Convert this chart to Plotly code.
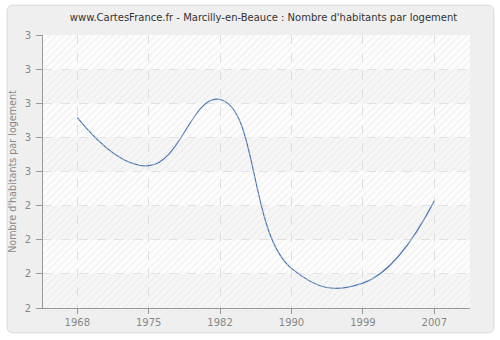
import plotly.graph_objects as go

years = ["1968", "1975", "1982", "1990", "1999", "2007"]
values = [2.658, 2.517, 2.711, 2.216, 2.173, 2.414]
y_tickvals = [2.1, 2.2, 2.3, 2.4, 2.5, 2.6, 2.7, 2.8, 2.9]
y_ticklabels = ["2", "2", "2", "2", "3", "3", "3", "3", "3"]

title = "www.CartesFrance.fr - Marcilly-en-Beauce : Nombre d'habitants par logement"
ytitle = "Nombre d'habitants par logement"

fig = go.Figure()

# hatched background fill over the plot area
fig.add_trace(go.Bar(
    x=[0.5], y=[1], width=[1], xaxis="x2", yaxis="y2",
    marker=dict(color="rgba(0,0,0,0)", line=dict(width=0),
                pattern=dict(shape="/", fgcolor="#e3e3e3", bgcolor="rgba(0,0,0,0)",
                             size=5, solidity=0.25)),
    hoverinfo="skip", showlegend=False,
))

fig.add_trace(go.Scatter(
    x=years, y=values, mode="lines",
    line=dict(color="#4a78b0", width=1.2, shape="spline", smoothing=1.3),
    showlegend=False,
))

# outer rounded panel (paper coords; plot area is 429 x 275 px)
W, H = 429.0, 275.0
def px(xp):
    return (xp - 41) / W
def py(yp):
    return (310 - yp) / H
x0, x1, y0, y1 = px(5), px(494), py(335), py(5)
rx, ry = 6 / W, 6 / H
panel = (f"M {x0+rx},{y1} L {x1-rx},{y1} Q {x1},{y1} {x1},{y1-ry} "
         f"L {x1},{y0+ry} Q {x1},{y0} {x1-rx},{y0} L {x0+rx},{y0} "
         f"Q {x0},{y0} {x0},{y0+ry} L {x0},{y1-ry} Q {x0},{y1} {x0+rx},{y1} Z")
shapes = [
    dict(type="path", xref="paper", yref="paper", layer="below", path=panel,
         fillcolor="#efefef", line=dict(color="#dadada", width=1)),
    dict(type="rect", xref="paper", yref="paper", layer="below",
         x0=0, x1=1, y0=0, y1=1, fillcolor="#fdfdfd", line=dict(width=0)),
]
# alternating bands
for i in range(len(y_tickvals) - 1):
    if i % 2 == 0:
        shapes.append(dict(type="rect", xref="paper", yref="y", x0=0, x1=1,
                           y0=y_tickvals[i], y1=y_tickvals[i + 1],
                           fillcolor="#f6f6f6", line=dict(width=0), layer="below"))

fig.update_layout(
    width=500, height=340,
    margin=dict(l=41, r=30, t=35, b=30),
    paper_bgcolor="#ffffff",
    plot_bgcolor="rgba(0,0,0,0)",
    shapes=shapes,
    bargap=0,
    font=dict(family="DejaVu Sans, Verdana, sans-serif", size=10, color="#888888"),
    title=dict(text=title, x=0.527, xanchor="center", y=0.95, yanchor="middle",
               font=dict(size=10, color="#333333")),
    xaxis=dict(
        type="category", range=[-0.48, 5.5],
        showline=True, linecolor="#999999", linewidth=1,
        ticks="outside", ticklen=5, tickcolor="#999999",
        showgrid=True, gridcolor="#dddddd", griddash="dash", gridwidth=1,
        tickfont=dict(size=10, color="#888888"),
        zeroline=False,
    ),
    yaxis=dict(
        range=[2.1, 2.9],
        tickvals=y_tickvals, ticktext=y_ticklabels,
        showline=True, linecolor="#999999", linewidth=1,
        ticks="outside", ticklen=6, tickcolor="#999999", ticklabelstandoff=3,
        showgrid=True, gridcolor="#e2e2e2", griddash="dash", gridwidth=1,
        tickfont=dict(size=10, color="#888888"),
        title=dict(text=ytitle, font=dict(size=9.6, color="#888888"), standoff=6),
        zeroline=False,
    ),
    xaxis2=dict(overlaying="x", range=[0, 1], visible=False),
    yaxis2=dict(overlaying="y", range=[0, 1], visible=False),
)

fig.write_html("out.html")
